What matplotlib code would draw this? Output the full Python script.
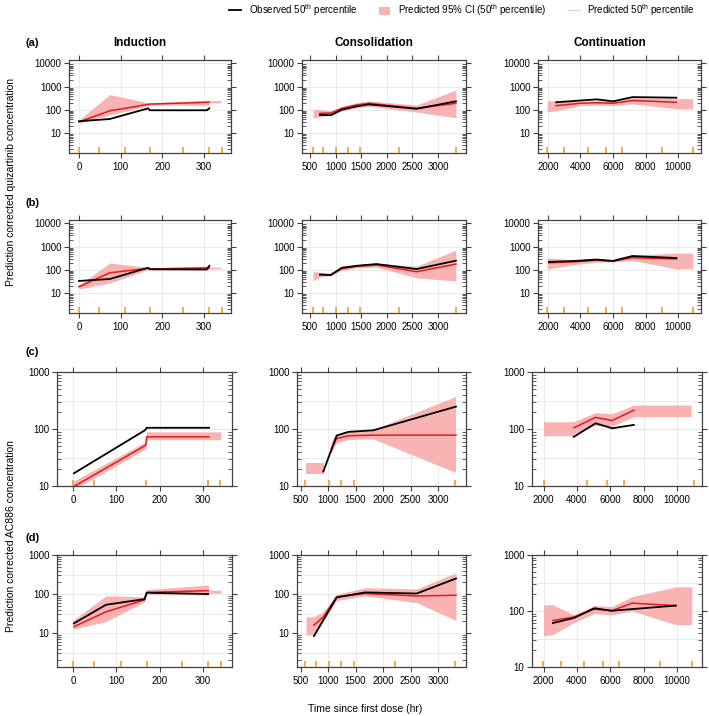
import numpy as np
import matplotlib
matplotlib.use('Agg')
import matplotlib.pyplot as plt
from matplotlib.lines import Line2D
from matplotlib.patches import Patch
from matplotlib.ticker import FixedLocator, FixedFormatter, LogLocator, NullFormatter

plt.rcParams['font.family'] = ['Liberation Sans', 'DejaVu Sans']
plt.rcParams['mathtext.default'] = 'regular'

nan = np.nan

# ---- (a) quizartinib ----
a1_obs_t = [0, 74, 166, 170, 307, 313]
a1_obs = [32, 40, 115, 95, 95, 115]
a1_pred_t = [0, 74, 166, 170, 312]
a1_pred = [30, 90, 170, 175, 210]
a1_ci_t = [0, 74, 166, 170, 312, 313, 340]
a1_ci_lo = [27, 60, 150, 160, 160, 200, 200]
a1_ci_hi = [36, 450, 200, 200, 260, 250, 250]

a2_obs_t = [695, 906, 1120, 1410, 1650, 2580, 3350]
a2_obs = [60, 58, 100, 140, 170, 110, 230]
a2_pred_t = [695, 906, 1120, 1410, 1650, 2580, 3350]
a2_pred = [70, 72, 115, 160, 190, 115, 190]
a2_ci_t = [560, 695, 906, 1120, 1410, 1650, 2580, 3350]
a2_ci_lo = [45, 50, 60, 90, 120, 140, 80, 45]
a2_ci_hi = [105, 100, 90, 140, 200, 240, 160, 700]

a3_obs_t = [2500, 4000, 5000, 6000, 7200, 9900]
a3_obs = [210, 250, 280, 230, 350, 330]
a3_pred_t = [2500, 4000, 5000, 6000, 7200, 9900]
a3_pred = [150, 190, 200, 190, 250, 210]
a3_ci_t = [1950, 2500, 4000, 5000, 6000, 7200, 9900, 10900]
a3_ci_lo = [80, 90, 150, 160, 150, 180, 110, 110]
a3_ci_hi = [250, 230, 230, 250, 230, 330, 300, 300]

# ---- (b) quizartinib ----
b1_obs_t = [0, 74, 166, 170, 307, 313]
b1_obs = [33, 40, 122, 105, 103, 148]
b1_pred_t = [0, 74, 166, 170, 312]
b1_pred = [18.6, 74, 115, 108, 120]
b1_ci_t = [0, 74, 166, 170, 312, 313, 340]
b1_ci_lo = [15, 27, 100, 100, 100, 110, 110]
b1_ci_hi = [22, 195, 125, 120, 145, 130, 130]

b2_obs_t = [695, 906, 1120, 1410, 1800, 2580, 3350]
b2_obs = [63, 59, 122, 148, 176, 107, 245]
b2_pred_t = [695, 906, 1120, 1410, 1800, 2580, 3350]
b2_pred = [60, 62, 110, 140, 160, 82, 175]
b2_ci_t = [560, 695, 906, 1120, 1410, 1800, 2580, 3350]
b2_ci_lo = [33, 50, 55, 95, 120, 130, 45, 33]
b2_ci_hi = [87, 75, 70, 130, 165, 190, 140, 700]

b3_obs_t = [2060, 3700, 4980, 6000, 7190, 9900]
b3_obs = [218, 240, 275, 240, 390, 320]
b3_pred_t = [2060, 3700, 4980, 6000, 7190, 9900]
b3_pred = [200, 220, 255, 235, 330, 290]
b3_ci_t = [1950, 2060, 3700, 4980, 6000, 7190, 9900, 10900]
b3_ci_lo = [100, 110, 170, 210, 215, 250, 110, 110]
b3_ci_hi = [330, 310, 270, 290, 260, 420, 520, 520]

# ---- (c) AC886 ----
c1_obs_t = [2, 166, 170, 314]
c1_obs = [16.7, 95, 105, 105]
c1_pred_t = [0, 168, 170, 314]
c1_pred = [9.6, 52, 73, 73]
c1_ci_t = [0, 168, 170, 312, 341]
c1_ci_lo = [8.5, 45, 65, 65, 65]
c1_ci_hi = [12, 60, 89, 89, 89]

c2_obs_t = [915, 1158, 1370, 1824, 3327]
c2_obs = [18, 77, 89, 95, 247]
c2_pred_t = [1060, 1158, 1370, 1824, 3327]
c2_pred = [45, 68, 76, 78, 78]
c2_ci_t = [600, 920, 990, 1060, 1158, 1370, 1824, 3327]
c2_ci_lo = [16, 16, nan, 35, 55, 64, 66, 17]
c2_ci_hi = [25, 25, nan, 55, 80, 90, 95, 365]

c3_obs_t = [3820, 5120, 6120, 7420]
c3_obs = [73, 126, 103, 118]
c3_pred_t = [3820, 5120, 6120, 7420]
c3_pred = [105, 160, 141, 214]
c3_ci_t = [2000, 3800, 3820, 5120, 6120, 7420, 10860]
c3_ci_lo = [76, 76, 82, 115, 112, 165, 165]
c3_ci_hi = [134, 134, 135, 193, 185, 263, 263]

# ---- (d) AC886 ----
d1_obs_t = [2, 76, 165, 170, 312]
d1_obs = [17.7, 53, 74, 108, 100]
d1_pred_t = [2, 76, 165, 170, 312]
d1_pred = [14.5, 35, 70.6, 110, 122]
d1_ci_t = [0, 76, 165, 170, 312, 313, 342]
d1_ci_lo = [12.6, 19.6, 63, 99, 94, 105, 105]
d1_ci_hi = [21, 90, 85, 130, 170, 125, 125]

d2_obs_t = [745, 915, 1158, 1673, 2612, 3327]
d2_obs = [8.4, 21.6, 82, 110, 103, 250]
d2_pred_t = [745, 915, 1158, 1673, 2612, 3327]
d2_pred = [16, 26, 85, 103, 89, 93]
d2_ci_t = [600, 745, 915, 1158, 1673, 2612, 3327]
d2_ci_lo = [9, 9, 20, 68, 90, 60, 21]
d2_ci_hi = [26, 26, 35, 98, 145, 135, 350]

d3_obs_t = [2565, 3820, 5050, 6100, 9940]
d3_obs = [61, 75, 112, 101, 125]
d3_pred_t = [2565, 3820, 5050, 6100, 7315, 9940]
d3_pred = [67.6, 78, 108, 101, 138, 125]
d3_ci_t = [2000, 2565, 3820, 5050, 6100, 7315, 9940, 10900]
d3_ci_lo = [36, 38, 62, 90, 85, 100, 57, 57]
d3_ci_hi = [129, 129, 86, 125, 120, 181, 270, 270]

# bin edges (orange marks)
ab_bins1 = [0, 48, 110, 170, 250, 312, 343]
ab_bins2 = [560, 755, 1010, 1245, 1480, 2240, 3350]
ab_bins3 = [1950, 3000, 4450, 5550, 6550, 9000, 10900]
c_bins1 = [0, 48, 168, 312, 340]
c_bins2 = [573, 1010, 1230, 1470, 3300]
c_bins3 = [2000, 4600, 5800, 6800, 11000]
d_bins1 = [0, 48, 111, 171, 252, 312, 342]
d_bins2 = [573, 775, 1010, 1230, 1470, 2215, 3300]
d_bins3 = [1950, 3050, 4450, 5550, 6550, 9000, 10900]

xticks1 = [0, 100, 200, 300]
xticks2 = [500, 1000, 1500, 2000, 2500, 3000]
xticks3 = [2000, 4000, 6000, 8000, 10000]

BAND = '#F9B3B3'
RED = '#E31A1C'
ORANGE = '#F0A020'
FRAME = '#404040'
GRID = '#E6E6E6'

W, H = 709, 716
fig = plt.figure(figsize=(W / 100, H / 100), dpi=100)


def add_ax(x0, x1, y0, y1):
    return fig.add_axes([x0 / W, 1 - y1 / H, (x1 - x0) / W, (y1 - y0) / H])


def panel(ax, obs_t, obs, pred_t, pred, ci_t, ci_lo, ci_hi, bins,
          xlim, xticks, ylim, yticks, hgrid):
    ax.set_yscale('log')
    ax.set_xlim(xlim)
    ax.set_ylim(ylim)
    for g in hgrid:
        ax.axhline(g, color=GRID, lw=0.6, zorder=0)
    for g in xticks:
        ax.axvline(g, color=GRID, lw=0.6, zorder=0)
    ax.fill_between(ci_t, ci_lo, ci_hi, color=BAND, lw=0, zorder=1)
    ax.plot(pred_t, pred, color=RED, lw=1.1, zorder=2)
    ax.plot(obs_t, obs, color='black', lw=1.3, zorder=3)
    ax.scatter(bins, [0.03] * len(bins), transform=ax.get_xaxis_transform(),
               marker='|', s=18, color=ORANGE, lw=1.2, zorder=4, clip_on=False)
    ax.xaxis.set_major_locator(FixedLocator(xticks))
    ax.yaxis.set_major_locator(FixedLocator(yticks))
    ax.yaxis.set_major_formatter(FixedFormatter([str(v) for v in yticks]))
    ax.yaxis.set_minor_locator(LogLocator(base=10, subs=np.arange(2, 10)))
    ax.yaxis.set_minor_formatter(NullFormatter())
    ax.tick_params(which='major', direction='out', length=3.5, width=0.8,
                   color=FRAME, labelsize=7, pad=2,
                   top=True, right=True, labeltop=False, labelright=False)
    ax.tick_params(axis='x', pad=3)
    ax.tick_params(axis='y', which='minor', direction='in', length=3,
                   width=0.6, color=FRAME, left=True, right=True)
    for s in ax.spines.values():
        s.set_color(FRAME)
        s.set_linewidth(0.9)


ab_cols = [(69, 231), (302, 466), (538, 701)]
cd_cols = [(57, 232), (297, 466), (532, 702)]
ab_xlims = [(-24, 365), (344, 3547), (1385, 11415)]
cd_xlims = [(-37, 367), (436, 3509), (1310, 11510)]
xticks_all = [xticks1, xticks2, xticks3]

ab_ylim = (10 ** 0.14, 10 ** 4.14)
ab_yt = [10, 100, 1000, 10000]
c_ylim = (10, 1000)
d_ylim = (10 ** 0.13, 1000)
cd_yt = [10, 100, 1000]

rows = [
    ((60, 153), ab_cols, ab_xlims, [
        (a1_obs_t, a1_obs, a1_pred_t, a1_pred, a1_ci_t, a1_ci_lo, a1_ci_hi, ab_bins1, ab_ylim, ab_yt, ab_yt),
        (a2_obs_t, a2_obs, a2_pred_t, a2_pred, a2_ci_t, a2_ci_lo, a2_ci_hi, ab_bins2, ab_ylim, ab_yt, ab_yt),
        (a3_obs_t, a3_obs, a3_pred_t, a3_pred, a3_ci_t, a3_ci_lo, a3_ci_hi, ab_bins3, ab_ylim, ab_yt, ab_yt)]),
    ((220, 313), ab_cols, ab_xlims, [
        (b1_obs_t, b1_obs, b1_pred_t, b1_pred, b1_ci_t, b1_ci_lo, b1_ci_hi, ab_bins1, ab_ylim, ab_yt, ab_yt),
        (b2_obs_t, b2_obs, b2_pred_t, b2_pred, b2_ci_t, b2_ci_lo, b2_ci_hi, ab_bins2, ab_ylim, ab_yt, ab_yt),
        (b3_obs_t, b3_obs, b3_pred_t, b3_pred, b3_ci_t, b3_ci_lo, b3_ci_hi, ab_bins3, ab_ylim, ab_yt, ab_yt)]),
    ((372, 486), cd_cols, cd_xlims, [
        (c1_obs_t, c1_obs, c1_pred_t, c1_pred, c1_ci_t, c1_ci_lo, c1_ci_hi, c_bins1, c_ylim, cd_yt, [10 ** 1.5, 100, 10 ** 2.5]),
        (c2_obs_t, c2_obs, c2_pred_t, c2_pred, c2_ci_t, c2_ci_lo, c2_ci_hi, c_bins2, c_ylim, cd_yt, [10 ** 1.5, 100, 10 ** 2.5]),
        (c3_obs_t, c3_obs, c3_pred_t, c3_pred, c3_ci_t, c3_ci_lo, c3_ci_hi, c_bins3, c_ylim, cd_yt, [10 ** 1.5, 100, 10 ** 2.5])]),
    ((555, 667), cd_cols, cd_xlims, [
        (d1_obs_t, d1_obs, d1_pred_t, d1_pred, d1_ci_t, d1_ci_lo, d1_ci_hi, d_bins1, d_ylim, cd_yt, [10 ** 0.5, 10, 10 ** 1.5, 100, 10 ** 2.5]),
        (d2_obs_t, d2_obs, d2_pred_t, d2_pred, d2_ci_t, d2_ci_lo, d2_ci_hi, d_bins2, d_ylim, cd_yt, [10 ** 0.5, 10, 10 ** 1.5, 100, 10 ** 2.5]),
        (d3_obs_t, d3_obs, d3_pred_t, d3_pred, d3_ci_t, d3_ci_lo, d3_ci_hi, d_bins3, c_ylim, cd_yt, [10 ** 1.5, 100, 10 ** 2.5])]),
]

for (y0, y1), cols, xlims, panels in rows:
    for (x0, x1), xlim, xt, p in zip(cols, xlims, xticks_all, panels):
        ax = add_ax(x0, x1, y0, y1)
        panel(ax, *p[:8], xlim, xt, p[8], p[9], p[10])

# panel letters and column headings
for lab, yy in [('(a)', 43), ('(b)', 203), ('(c)', 352), ('(d)', 538)]:
    fig.text(25 / W, 1 - yy / H, lab, fontsize=8, fontweight='bold', ha='left', va='center')
for name, xx in [('Induction', 140), ('Consolidation', 374), ('Continuation', 610)]:
    fig.text(xx / W, 1 - 43 / H, name, fontsize=8.5, fontweight='bold', ha='center', va='center')

fig.text(11 / W, 1 - 182 / H, 'Prediction corrected quizartinib concentration',
         rotation=90, fontsize=7.5, ha='center', va='center')
fig.text(11 / W, 1 - 536 / H, 'Prediction corrected AC886 concentration',
         rotation=90, fontsize=7.5, ha='center', va='center')
fig.text(365 / W, 1 - 709 / H, 'Time since first dose (hr)', fontsize=7.5, ha='center', va='center')

handles = [Line2D([], [], color='black', lw=1.3),
           Patch(facecolor=BAND, edgecolor='none'),
           Line2D([], [], color='#F6CACA', lw=1)]
labels = ['Observed 50$^{th}$ percentile',
          'Predicted 95% CI (50$^{th}$ percentile)',
          'Predicted 50$^{th}$ percentile']
fig.legend(handles, labels, loc='center', bbox_to_anchor=(462 / W, 1 - 10 / H), ncol=3,
           frameon=False, fontsize=7, handlelength=1.2, handleheight=0.9,
           columnspacing=2.2, handletextpad=0.8)

fig.savefig('out.png', dpi=100)
